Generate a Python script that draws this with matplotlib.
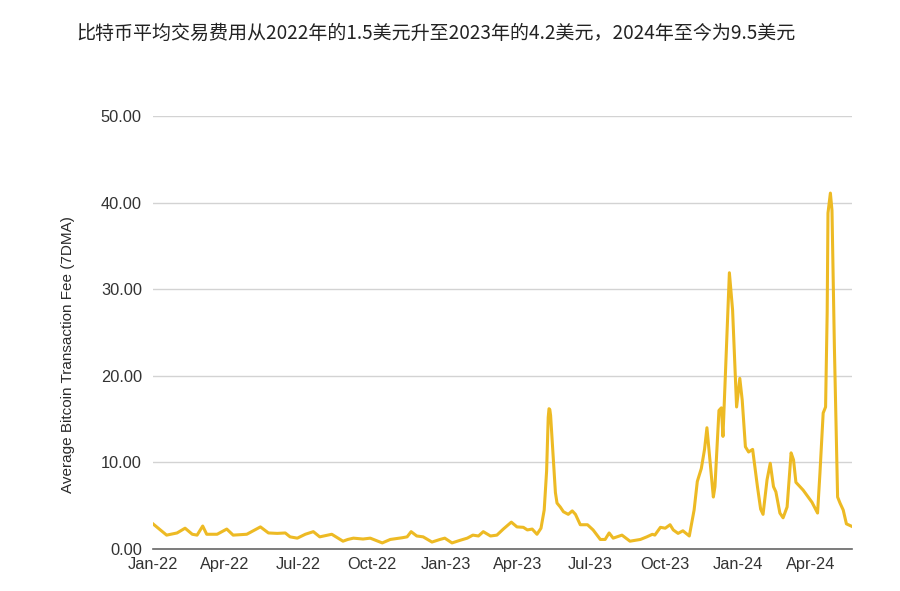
import numpy as np
import pandas as pd
import matplotlib
matplotlib.use("Agg")
import matplotlib.pyplot as plt
import matplotlib.dates as mdates

# data (7-day moving average, USD)
dates = [
    "2022-01-01", "2022-01-18", "2022-01-31", "2022-02-10", "2022-02-19", "2022-02-25",
    "2022-03-04", "2022-03-09", "2022-03-22", "2022-04-03", "2022-04-11", "2022-04-28",
    "2022-05-15", "2022-05-25", "2022-06-05", "2022-06-15", "2022-06-21", "2022-06-30",
    "2022-07-10", "2022-07-20", "2022-07-28", "2022-08-12", "2022-08-26", "2022-09-01",
    "2022-09-08", "2022-09-20", "2022-09-29", "2022-10-14", "2022-10-24", "2022-11-08",
    "2022-11-14", "2022-11-19", "2022-11-26", "2022-12-04", "2022-12-15", "2022-12-25",
    "2022-12-31", "2023-01-09", "2023-01-19", "2023-01-28", "2023-02-04", "2023-02-11",
    "2023-02-17", "2023-02-26", "2023-03-06", "2023-03-14", "2023-03-24", "2023-03-31",
    "2023-04-08", "2023-04-13", "2023-04-19", "2023-04-25", "2023-04-30", "2023-05-04",
    "2023-05-07", "2023-05-09", "2023-05-10", "2023-05-11", "2023-05-12", "2023-05-14",
    "2023-05-18", "2023-05-20",
    "2023-05-24", "2023-05-28", "2023-06-03", "2023-06-08", "2023-06-12", "2023-06-18",
    "2023-06-27", "2023-07-04", "2023-07-13", "2023-07-19", "2023-07-24", "2023-07-29",
    "2023-08-09", "2023-08-19", "2023-09-01", "2023-09-09", "2023-09-16", "2023-09-19",
    "2023-09-26", "2023-10-02", "2023-10-08", "2023-10-12", "2023-10-18", "2023-10-24",
    "2023-11-01", "2023-11-07", "2023-11-11", "2023-11-16", "2023-11-20", "2023-11-23",
    "2023-11-27", "2023-12-01", "2023-12-03", "2023-12-08", "2023-12-11", "2023-12-13",
    "2023-12-17", "2023-12-21", "2023-12-25", "2023-12-30", "2024-01-03", "2024-01-06",
    "2024-01-10", "2024-01-14", "2024-01-19", "2024-01-25", "2024-01-29", "2024-02-01",
    "2024-02-06", "2024-02-10", "2024-02-14", "2024-02-17", "2024-02-22", "2024-02-26",
    "2024-03-02", "2024-03-07", "2024-03-10", "2024-03-13", "2024-03-22", "2024-04-02",
    "2024-04-09", "2024-04-12", "2024-04-16", "2024-04-19", "2024-04-21", "2024-04-22",
    "2024-04-25", "2024-04-27", "2024-04-30", "2024-05-04", "2024-05-07", "2024-05-11",
    "2024-05-15", "2024-05-22",
]
fees = [
    2.9, 1.6, 1.85, 2.4, 1.7, 1.6,
    2.65, 1.7, 1.7, 2.3, 1.6, 1.7,
    2.55, 1.85, 1.8, 1.85, 1.4, 1.25,
    1.7, 2.0, 1.4, 1.7, 0.9, 1.1,
    1.25, 1.15, 1.25, 0.7, 1.1, 1.3,
    1.4, 2.0, 1.5, 1.4, 0.8, 1.1,
    1.25, 0.7, 1.0, 1.25, 1.6, 1.5,
    2.0, 1.5, 1.6, 2.3, 3.1, 2.55,
    2.5, 2.2, 2.3, 1.7, 2.4, 4.5,
    9.0, 15.2, 16.2, 16.1, 15.4, 12.5,
    6.5, 5.3,
    4.85, 4.3, 4.0, 4.4, 4.0, 2.8,
    2.8, 2.2, 1.1, 1.1, 1.85, 1.25,
    1.6, 0.9, 1.1, 1.4, 1.7, 1.6,
    2.5, 2.4, 2.8, 2.2, 1.8, 2.1,
    1.5, 4.5, 7.8, 9.3, 11.5, 14.0,
    10.0, 6.0, 7.2, 16.0, 16.3, 13.0,
    22.6, 31.9, 27.6, 16.4, 19.7, 17.2,
    11.8, 11.2, 11.5, 7.2, 4.6, 4.0,
    8.0, 9.9, 7.2, 6.6, 4.15, 3.6,
    4.85, 11.1, 10.3, 7.7, 6.8, 5.4,
    4.15, 8.8, 15.7, 16.4, 27.3, 38.8,
    41.1, 39.1, 23.3, 6.0, 5.3, 4.5,
    2.9, 2.6,
]
yticks = [0, 10, 20, 30, 40, 50]

title = "比特币平均交易费用从2022年的1.5美元升至2023年的4.2美元，2024年至今为9.5美元"
ylabel = "Average Bitcoin Transaction Fee (7DMA)"

x = pd.to_datetime(dates)

plt.rcParams['font.family'] = ['Liberation Sans', 'DejaVu Sans']

fig = plt.figure(figsize=(9, 5.91), dpi=100)
ax = fig.add_axes([0.170, 0.0711, 0.7767, 0.7326])

ax.plot(x, fees, color='#EDBA24', lw=2.2, solid_joinstyle='round', zorder=3)

ax.set_ylim(0, 50)
ax.set_xlim(x[0], x[-1])
ax.set_yticks(yticks)
ax.yaxis.set_major_formatter(matplotlib.ticker.FormatStrFormatter('%.2f'))
ax.xaxis.set_major_locator(mdates.MonthLocator(bymonth=[1, 4, 7, 10]))
ax.xaxis.set_major_formatter(mdates.DateFormatter('%b-%y'))

ax.grid(axis='y', color='#D3D3D3', lw=1.0)
ax.set_axisbelow(True)
for s in ['top', 'right', 'left']:
    ax.spines[s].set_visible(False)
ax.spines['bottom'].set_color('#666666')
ax.spines['bottom'].set_linewidth(1.2)
ax.spines['bottom'].set_zorder(4)

ax.tick_params(axis='both', length=0, labelsize=11.8, labelcolor='#333333')
ax.tick_params(axis='y', pad=8)
ax.tick_params(axis='x', pad=6)

fig.text(68 / 900, 1 - 355 / 591, ylabel, rotation=90, ha='center', va='center',
         fontsize=11, color='#2a2a2a')
fig.text(76 / 900, 1 - 33 / 591, title, ha='left', va='center', fontsize=13.7,
         color='#222222', family=['Noto Sans CJK SC', 'DejaVu Sans'])

fig.savefig('out.png', dpi=100)
